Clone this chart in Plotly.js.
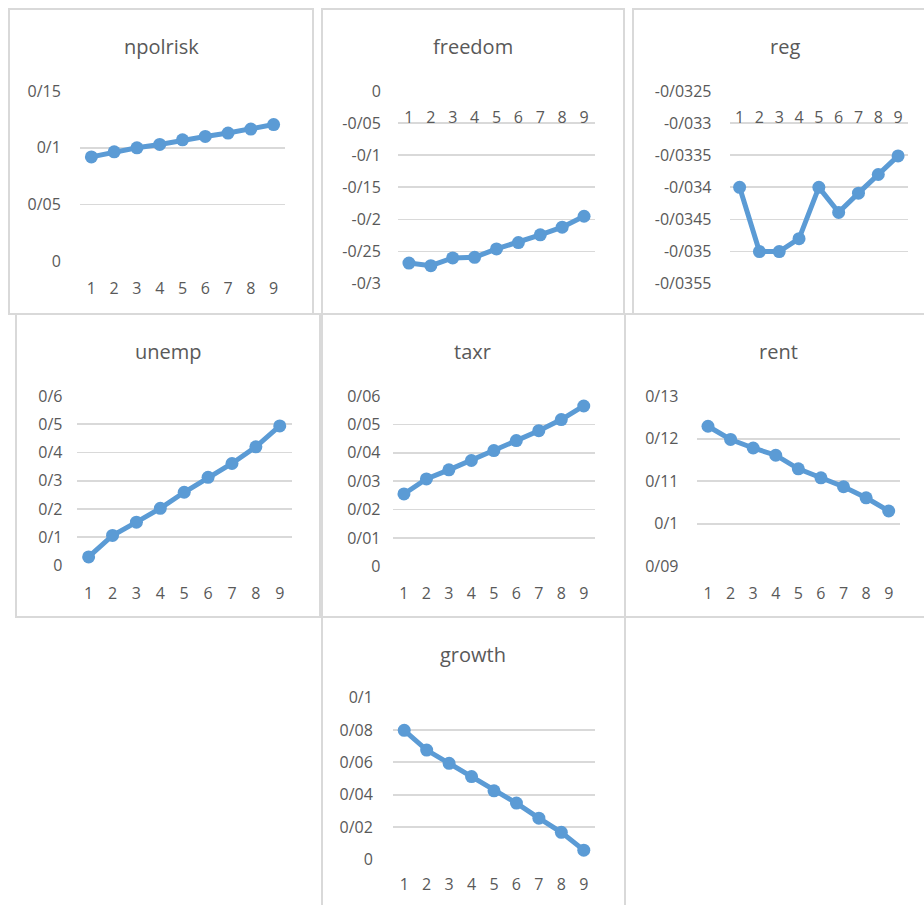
<!DOCTYPE html>
<html>
<head>
<meta charset="utf-8">
<script src="https://cdn.plot.ly/plotly-3.0.1.min.js"></script>
<style>html,body{margin:0;padding:0;background:#fff;}#chart{width:924px;height:905px;}</style>
</head>
<body>
<div id="chart"></div>
<script>
// ---- data ----
const categories = [1, 2, 3, 4, 5, 6, 7, 8, 9];

const npolrisk = [0.092, 0.0965, 0.100, 0.103, 0.107, 0.110, 0.113, 0.1165, 0.1205];
const freedom  = [-0.268, -0.272, -0.260, -0.259, -0.246, -0.236, -0.224, -0.212, -0.195];
const reg      = [-0.0340, -0.0350, -0.0350, -0.0348, -0.0340, -0.03439, -0.03409, -0.0338, -0.03351];
const unemp    = [0.030, 0.106, 0.153, 0.202, 0.259, 0.312, 0.361, 0.420, 0.494];
const taxr     = [0.0255, 0.0308, 0.0340, 0.0373, 0.0408, 0.0443, 0.0478, 0.0517, 0.0565];
const rent     = [0.1229, 0.1198, 0.1178, 0.1161, 0.1129, 0.1108, 0.1087, 0.1061, 0.1030];
const growth   = [0.0798, 0.0676, 0.0594, 0.0512, 0.0424, 0.0348, 0.0255, 0.0167, 0.0057];

const npolriskTicks  = [0, 0.05, 0.1, 0.15];
const npolriskLabels = ["0", "0/05", "0/1", "0/15"];
const freedomTicks   = [-0.3, -0.25, -0.2, -0.15, -0.1, -0.05, 0];
const freedomLabels  = ["-0/3", "-0/25", "-0/2", "-0/15", "-0/1", "-0/05", "0"];
const regTicks       = [-0.0355, -0.035, -0.0345, -0.034, -0.0335, -0.033, -0.0325];
const regLabels      = ["-0/0355", "-0/035", "-0/0345", "-0/034", "-0/0335", "-0/033", "-0/0325"];
const unempTicks     = [0, 0.1, 0.2, 0.3, 0.4, 0.5, 0.6];
const unempLabels    = ["0", "0/1", "0/2", "0/3", "0/4", "0/5", "0/6"];
const taxrTicks      = [0, 0.01, 0.02, 0.03, 0.04, 0.05, 0.06];
const taxrLabels     = ["0", "0/01", "0/02", "0/03", "0/04", "0/05", "0/06"];
const rentTicks      = [0.09, 0.1, 0.11, 0.12, 0.13];
const rentLabels     = ["0/09", "0/1", "0/11", "0/12", "0/13"];
const growthTicks    = [0, 0.02, 0.04, 0.06, 0.08, 0.1];
const growthLabels   = ["0", "0/02", "0/04", "0/06", "0/08", "0/1"];

const panelNames = ["npolrisk", "freedom", "reg", "unemp", "taxr", "rent", "growth"];
const panelValues = [npolrisk, freedom, reg, unemp, taxr, rent, growth];
const panelTicks = [npolriskTicks, freedomTicks, regTicks, unempTicks, taxrTicks, rentTicks, growthTicks];
const panelLabels = [npolriskLabels, freedomLabels, regLabels, unempLabels, taxrLabels, rentLabels, growthLabels];
// value at which the category axis crosses
const panelCross = [0, 0, -0.0325, 0, 0, 0.09, 0];

// ---- geometry (pixels) ----
const W = 924, H = 905;
const geo = [
  {l: 80,    r: 285, t: 90.7,  b: 261.7, yg: 15, xg: 12, tx: 161, ty: 46.5},
  {l: 398,   r: 595, t: 90.7,  b: 284,   yg: 13, xg: 12, tx: 473, ty: 46.5},
  {l: 729.7, r: 908, t: 90.7,  b: 284,   yg: 14, xg: 12, tx: 785, ty: 46.5},
  {l: 76.7,  r: 291.7, t: 395.7, b: 565.7, yg: 10, xg: 13, tx: 168, ty: 351.7},
  {l: 392.7, r: 595, t: 395.7, b: 566.7, yg: 8,  xg: 12, tx: 473, ty: 351.7},
  {l: 696.7, r: 900, t: 395.7, b: 566.7, yg: 14, xg: 12, tx: 778, ty: 351.7},
  {l: 393,   r: 595, t: 697.3, b: 859.7, yg: 16, xg: 10, tx: 473, ty: 654.7}
];
const boxes = [
  [9, 313, 9, 314], [322, 624, 9, 314], [633, 925, 9, 314],
  [16, 320, 314, 617], [322, 625, 314, 617], [625, 925, 314, 617],
  [322, 625, 617, 906]
];

const FONT = "Open Sans, Liberation Sans, sans-serif";
const TXT = "#595959";
const BLUE = "#5b9bd5";
const GRID = "#d9d9d9";

const traces = [];
const layout = {
  width: W, height: H,
  margin: {l: 0, r: 0, t: 0, b: 0, pad: 0},
  paper_bgcolor: "#ffffff", plot_bgcolor: "#ffffff",
  showlegend: false,
  font: {family: FONT, color: TXT, size: 16},
  annotations: [], shapes: []
};

for (let i = 0; i < panelNames.length; i++) {
  const g = geo[i];
  const n = i === 0 ? "" : String(i + 1);
  const ticks = panelTicks[i];
  const lo = ticks[0], hi = ticks[ticks.length - 1];
  const span = hi - lo;
  traces.push({
    type: "scatter", mode: "lines+markers",
    x: categories, y: panelValues[i],
    xaxis: "x" + n, yaxis: "y" + n,
    line: {color: BLUE, width: 5},
    marker: {color: BLUE, size: 13},
    cliponaxis: false, hoverinfo: "skip"
  });
  const yDom = [1 - g.b / H, 1 - g.t / H];
  const crossFrac = (panelCross[i] - lo) / span;
  const crossPos = yDom[0] + crossFrac * (yDom[1] - yDom[0]);
  layout["xaxis" + n] = {
    domain: [g.l / W, g.r / W],
    range: [0.5, 9.5],
    anchor: "free", position: crossPos,
    tickmode: "array", tickvals: categories, ticktext: categories.map(String),
    showgrid: false, zeroline: false, showline: false,
    ticks: "outside", ticklen: g.xg, tickcolor: "rgba(0,0,0,0)",
    tickfont: {family: FONT, color: TXT, size: 16},
    fixedrange: true
  };
  layout["yaxis" + n] = {
    domain: yDom,
    range: [lo - span * 0.002, hi + span * 0.002],
    anchor: "x" + n,
    tickmode: "array", tickvals: ticks, ticktext: panelLabels[i],
    showgrid: true, gridcolor: GRID, gridwidth: 1.8,
    zeroline: false, showline: false,
    ticks: "outside", ticklen: g.yg, tickcolor: "rgba(0,0,0,0)",
    tickfont: {family: FONT, color: TXT, size: 16},
    fixedrange: true
  };
  layout.annotations.push({
    text: panelNames[i], xref: "paper", yref: "paper",
    x: g.tx / W, y: 1 - g.ty / H, xanchor: "center", yanchor: "middle",
    showarrow: false, font: {family: FONT, color: TXT, size: 20}
  });
}
for (const b of boxes) {
  layout.shapes.push({
    type: "rect", xref: "paper", yref: "paper", layer: "below",
    x0: b[0] / W, x1: b[1] / W, y0: 1 - b[3] / H, y1: 1 - b[2] / H,
    line: {color: GRID, width: 2}, fillcolor: "rgba(0,0,0,0)"
  });
}

Plotly.newPlot("chart", traces, layout, {displayModeBar: false, staticPlot: true});
</script>
</body>
</html>
